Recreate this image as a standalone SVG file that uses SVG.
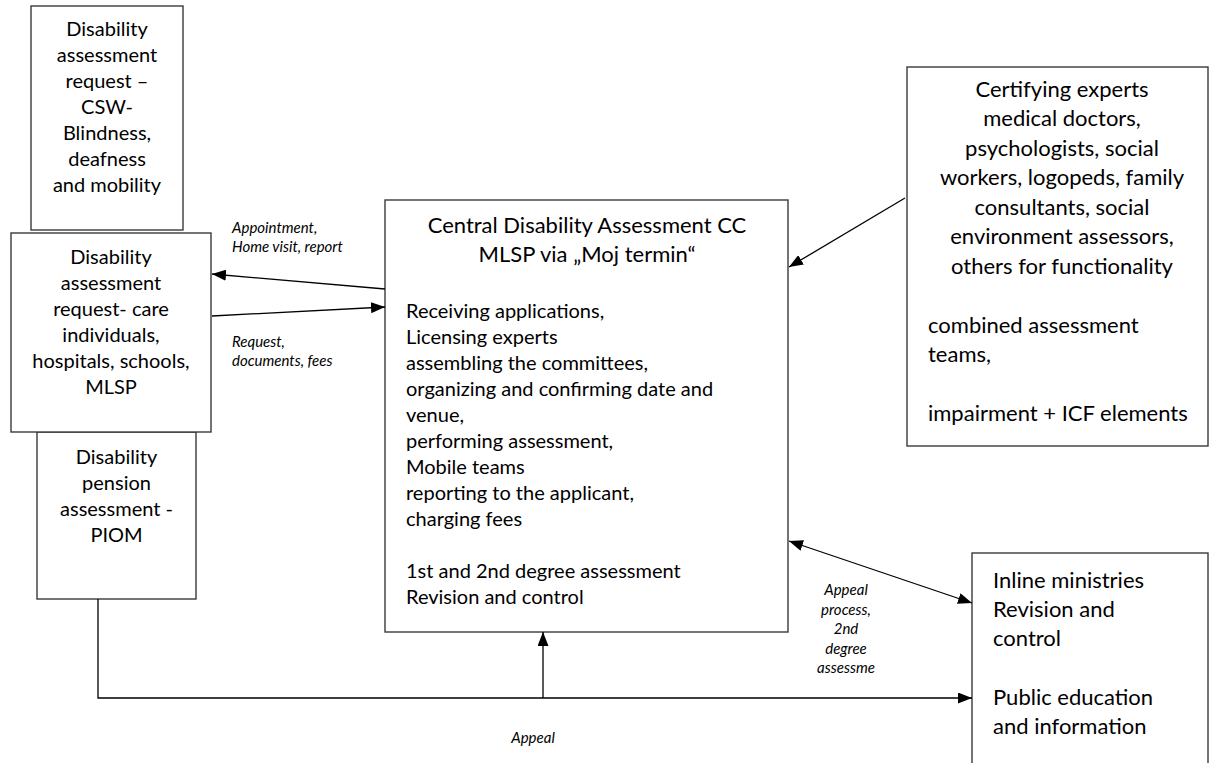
<svg xmlns="http://www.w3.org/2000/svg" width="1211" height="763" viewBox="0 0 1211 763">
<style>
.box{fill:#fff;stroke:#3a3a3a;stroke-width:1.4}
.t{font-family:Lato,"Liberation Sans",sans-serif;font-size:20px;fill:#000}
.b{font-size:22px}
.c{text-anchor:middle}
.lbl{font-family:Lato,"Liberation Sans",sans-serif;font-size:15px;font-style:italic;fill:#000}
.ln{fill:none;stroke:#000;stroke-width:1.3}
</style>
<defs>
<marker id="ah" viewBox="0 0 14 11" refX="14" refY="5.5" markerWidth="14" markerHeight="11" markerUnits="userSpaceOnUse" orient="auto-start-reverse">
<path d="M0,0 L14,5.5 L0,11 Z" fill="#000"/>
</marker>
</defs>
<rect width="1211" height="763" fill="#fff"/>
<g id="csw">
<rect class="box" x="31" y="6" width="152" height="224"/>
<text class="t c" x="107" y="36">Disability</text>
<text class="t c" x="107" y="62">assessment</text>
<text class="t c" x="107" y="88">request –</text>
<text class="t c" x="107" y="114">CSW-</text>
<text class="t c" x="107" y="140">Blindness,</text>
<text class="t c" x="107" y="166">deafness</text>
<text class="t c" x="107" y="192">and mobility</text>
</g>
<g id="pension">
<rect class="box" x="37" y="432" width="159" height="167"/>
<text class="t c" x="116.5" y="464">Disability</text>
<text class="t c" x="116.5" y="490">pension</text>
<text class="t c" x="116.5" y="516">assessment -</text>
<text class="t c" x="116.5" y="542">PIOM</text>
</g>
<g id="care">
<rect class="box" x="11" y="233" width="200" height="199"/>
<text class="t c" x="111" y="264">Disability</text>
<text class="t c" x="111" y="290">assessment</text>
<text class="t c" x="111" y="316">request- care</text>
<text class="t c" x="111" y="342">individuals,</text>
<text class="t c" x="111" y="368">hospitals, schools,</text>
<text class="t c" x="111" y="394">MLSP</text>
</g>
<g id="central">
<rect class="box" x="385" y="200" width="403" height="432"/>
<text class="t b c" x="587" y="233">Central Disability Assessment CC</text>
<text class="t b c" x="587" y="262">MLSP via „Moj termin“</text>
<text class="t" x="406" y="318">Receiving applications,</text>
<text class="t" x="406" y="344">Licensing experts</text>
<text class="t" x="406" y="370">assembling the committees,</text>
<text class="t" x="406" y="396">organizing and confirming date and</text>
<text class="t" x="406" y="422">venue,</text>
<text class="t" x="406" y="448">performing assessment,</text>
<text class="t" x="406" y="474">Mobile teams</text>
<text class="t" x="406" y="500">reporting to the applicant,</text>
<text class="t" x="406" y="526">charging fees</text>
<text class="t" x="406" y="578">1st and 2nd degree assessment</text>
<text class="t" x="406" y="604">Revision and control</text>
</g>
<g id="experts">
<rect class="box" x="907" y="67" width="301" height="379"/>
<text class="t b c" x="1062" y="97">Certifying experts</text>
<text class="t b c" x="1062" y="126">medical doctors,</text>
<text class="t b c" x="1062" y="156">psychologists, social</text>
<text class="t b c" x="1062" y="185">workers, logopeds, family</text>
<text class="t b c" x="1062" y="215">consultants, social</text>
<text class="t b c" x="1062" y="244">environment assessors,</text>
<text class="t b c" x="1062" y="274">others for functionality</text>
<text class="t b" x="928" y="333">combined assessment</text>
<text class="t b" x="928" y="362">teams,</text>
<text class="t b" x="928" y="421">impairment + ICF elements</text>
</g>
<g id="ministries">
<rect class="box" x="972" y="553" width="236" height="220"/>
<text class="t b" x="993" y="588">Inline ministries</text>
<text class="t b" x="993" y="617">Revision and</text>
<text class="t b" x="993" y="646">control</text>
<text class="t b" x="993" y="705">Public education</text>
<text class="t b" x="993" y="734">and information</text>
</g>
<g id="connectors">
<line class="ln" x1="385" y1="289" x2="212" y2="274" marker-end="url(#ah)"/>
<line class="ln" x1="212" y1="316" x2="385" y2="307" marker-end="url(#ah)"/>
<line class="ln" x1="905" y1="198" x2="789" y2="267" marker-end="url(#ah)"/>
<line class="ln" x1="789" y1="541" x2="972" y2="603" marker-start="url(#ah)" marker-end="url(#ah)"/>
<polyline class="ln" points="98,599 98,698 972,698" marker-end="url(#ah)"/>
<line class="ln" x1="543" y1="698" x2="543" y2="632" marker-end="url(#ah)"/>
<text class="lbl" x="232" y="233">Appointment,</text>
<text class="lbl" x="232" y="252">Home visit, report</text>
<text class="lbl" x="232" y="347">Request,</text>
<text class="lbl" x="232" y="366">documents, fees</text>
<text class="lbl c" x="846" y="595">Appeal</text>
<text class="lbl c" x="846" y="615">process,</text>
<text class="lbl c" x="846" y="634">2nd</text>
<text class="lbl c" x="846" y="654">degree</text>
<text class="lbl c" x="846" y="673">assessme</text>
<text class="lbl c" x="533" y="743">Appeal</text>
</g>
</svg>
